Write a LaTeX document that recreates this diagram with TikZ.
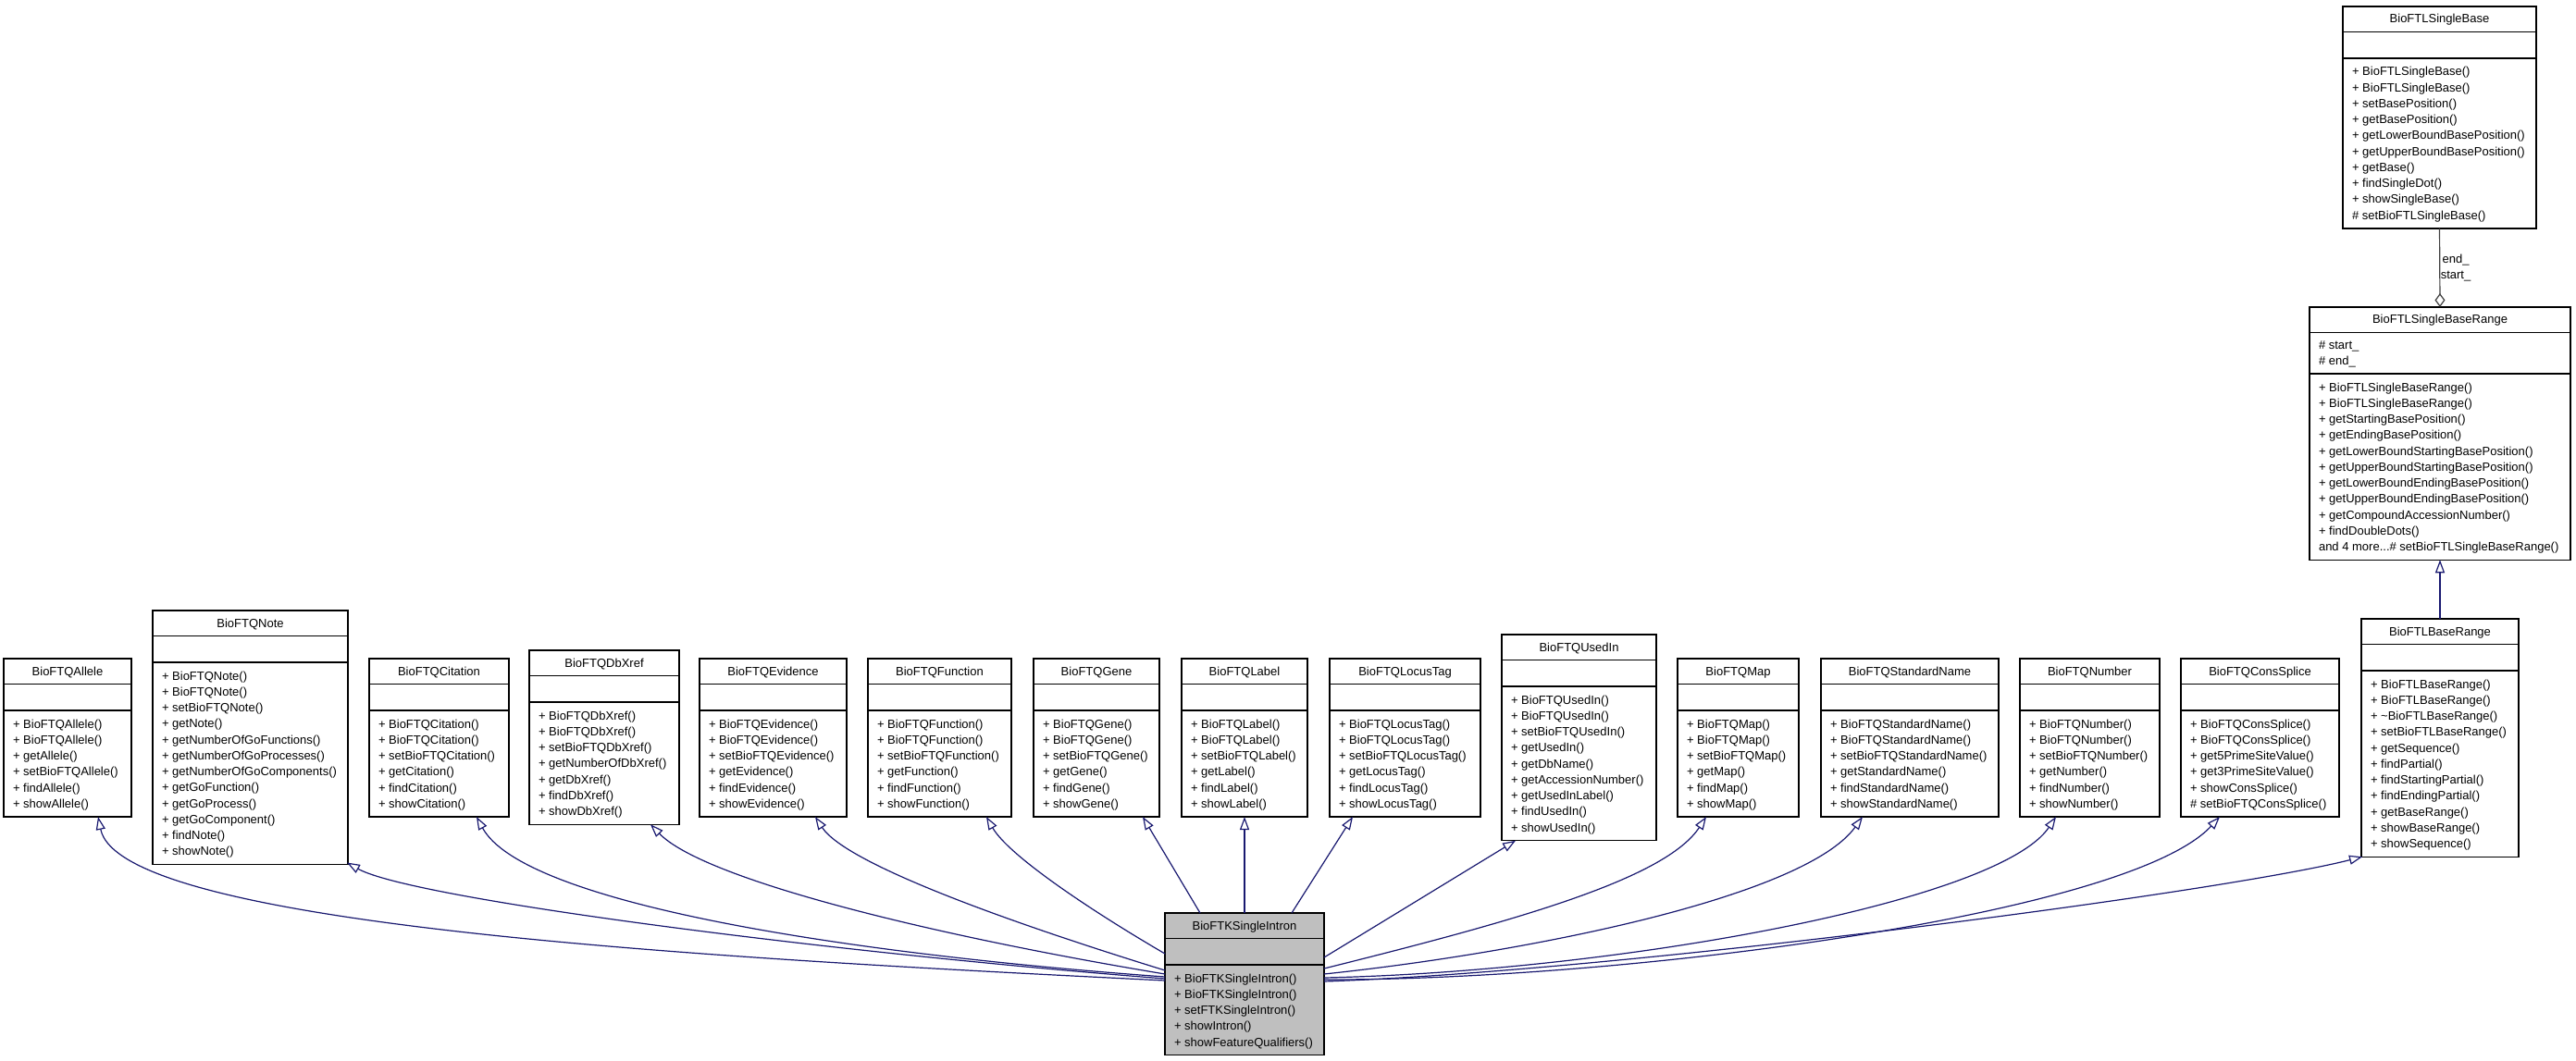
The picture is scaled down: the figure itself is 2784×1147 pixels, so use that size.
\documentclass[tikz,border=0pt]{standalone}
\usepackage{fontspec}
\setmainfont{Liberation Sans}
\usetikzlibrary{arrows.meta}
\definecolor{edgeblue}{HTML}{191970}
\definecolor{greytf}{HTML}{404040}
\definecolor{introngray}{HTML}{BFBFBF}
\tikzset{
  umlframe/.style={draw=black, line width=1.1pt, inner sep=0pt, outer sep=0pt},
  umlline/.style={draw=black, line width=1.1pt},
  umltext/.style={inner sep=0pt, outer sep=0pt, font=\fontsize{13}{17}\selectfont},
  inh/.style={draw=edgeblue, line width=1.2pt, -{Triangle[open, length=14pt, width=10pt]}},
  agg/.style={draw=greytf, line width=1.2pt, -{Diamond[open, length=15pt, width=11pt]}}
}
\newcommand\boxfill{white}
\newcommand\mythreedots{...}
% #1 name, #2 left, #3 right, #4 top, #5 title, #6 attr height, #7 attr code, #8 n methods, #9 methods
\newcommand\umlbox[9]{%
  \pgfmathsetmacro\bw{#3-#2}%
  \pgfmathsetmacro\bh{27.5+#6+#8*17.25+11.5}%
  \pgfmathsetmacro\sepy{27.5+#6}%
  \node[umlframe, fill=\boxfill, minimum width=\bw pt, minimum height=\bh pt, anchor=north west] (#1) at (#2,#4) {};
  \draw[umlline] ([yshift=-27.5pt]#1.north west) -- ([yshift=-27.5pt]#1.north east);
  \draw[umlline] ([yshift=-\sepy pt]#1.north west) -- ([yshift=-\sepy pt]#1.north east);
  \node[umltext, anchor=base] (#1-title) at ([yshift=-18pt]#1.north) {#5};
  #7%
  \foreach \m [count=\i] in {#9} {%
    \pgfmathsetmacro\ly{\sepy+19+(\i-1)*17.25}%
    \node[umltext, anchor=base west] (#1-m\i) at ([xshift=10pt, yshift=-\ly pt]#1.north west) {\m};
  }%
}
\begin{document}
\begin{tikzpicture}[x=1pt, y=-1pt]
\fill[white] (0,0) rectangle (2784,1147);
\useasboundingbox (0,0) rectangle (2784,1147);

\umlbox{allele}{4}{142}{712}{BioFTQAllele}{28.5}{}{6}{+ BioFTQAllele(), + BioFTQAllele(), + getAllele(), + setBioFTQAllele(), + findAllele(), + showAllele()}
\umlbox{note}{165}{376}{660}{BioFTQNote}{28.5}{}{12}{+ BioFTQNote(), + BioFTQNote(), + setBioFTQNote(), + getNote(), + getNumberOfGoFunctions(), + getNumberOfGoProcesses(), + getNumberOfGoComponents(), + getGoFunction(), + getGoProcess(), + getGoComponent(), + findNote(), + showNote()}
\umlbox{citation}{399}{550}{712}{BioFTQCitation}{28.5}{}{6}{+ BioFTQCitation(), + BioFTQCitation(), + setBioFTQCitation(), + getCitation(), + findCitation(), + showCitation()}
\umlbox{dbxref}{572}{734}{703}{BioFTQDbXref}{28.5}{}{7}{+ BioFTQDbXref(), + BioFTQDbXref(), + setBioFTQDbXref(), + getNumberOfDbXref(), + getDbXref(), + findDbXref(), + showDbXref()}
\umlbox{evidence}{756}{915}{712}{BioFTQEvidence}{28.5}{}{6}{+ BioFTQEvidence(), + BioFTQEvidence(), + setBioFTQEvidence(), + getEvidence(), + findEvidence(), + showEvidence()}
\umlbox{function}{938}{1093}{712}{BioFTQFunction}{28.5}{}{6}{+ BioFTQFunction(), + BioFTQFunction(), + setBioFTQFunction(), + getFunction(), + findFunction(), + showFunction()}
\umlbox{gene}{1117}{1253}{712}{BioFTQGene}{28.5}{}{6}{+ BioFTQGene(), + BioFTQGene(), + setBioFTQGene(), + getGene(), + findGene(), + showGene()}
\umlbox{label}{1277}{1413}{712}{BioFTQLabel}{28.5}{}{6}{+ BioFTQLabel(), + BioFTQLabel(), + setBioFTQLabel(), + getLabel(), + findLabel(), + showLabel()}
\umlbox{locustag}{1437}{1600}{712}{BioFTQLocusTag}{28.5}{}{6}{+ BioFTQLocusTag(), + BioFTQLocusTag(), + setBioFTQLocusTag(), + getLocusTag(), + findLocusTag(), + showLocusTag()}
\umlbox{usedin}{1623}{1790}{686}{BioFTQUsedIn}{28.5}{}{9}{+ BioFTQUsedIn(), + BioFTQUsedIn(), + setBioFTQUsedIn(), + getUsedIn(), + getDbName(), + getAccessionNumber(), + getUsedInLabel(), + findUsedIn(), + showUsedIn()}
\umlbox{map}{1813}{1944}{712}{BioFTQMap}{28.5}{}{6}{+ BioFTQMap(), + BioFTQMap(), + setBioFTQMap(), + getMap(), + findMap(), + showMap()}
\umlbox{stdname}{1968}{2160}{712}{BioFTQStandardName}{28.5}{}{6}{+ BioFTQStandardName(), + BioFTQStandardName(), + setBioFTQStandardName(), + getStandardName(), + findStandardName(), + showStandardName()}
\umlbox{number}{2183}{2334}{712}{BioFTQNumber}{28.5}{}{6}{+ BioFTQNumber(), + BioFTQNumber(), + setBioFTQNumber(), + getNumber(), + findNumber(), + showNumber()}
\umlbox{conssplice}{2357}{2528}{712}{BioFTQConsSplice}{28.5}{}{6}{+ BioFTQConsSplice(), + BioFTQConsSplice(), + get5PrimeSiteValue(), + get3PrimeSiteValue(), + showConsSplice(), \# setBioFTQConsSplice()}
\umlbox{baserange}{2552}{2722}{669}{BioFTLBaseRange}{28.5}{}{11}{+ BioFTLBaseRange(), + BioFTLBaseRange(), + \textasciitilde BioFTLBaseRange(), + setBioFTLBaseRange(), + getSequence(), + findPartial(), + findStartingPartial(), + findEndingPartial(), + getBaseRange(), + showBaseRange(), + showSequence()}
\umlbox{sbr}{2496}{2778}{332}{BioFTLSingleBaseRange}{44.5}{%
  \node[umltext, anchor=base west] (sbr-a1) at ([xshift=10pt, yshift=-45.5pt]sbr.north west) {\# start\_};
  \node[umltext, anchor=base west] (sbr-a2) at ([xshift=10pt, yshift=-62.75pt]sbr.north west) {\# end\_};
}{11}{+ BioFTLSingleBaseRange(), + BioFTLSingleBaseRange(), + getStartingBasePosition(), + getEndingBasePosition(), + getLowerBoundStartingBasePosition(), + getUpperBoundStartingBasePosition(), + getLowerBoundEndingBasePosition(), + getUpperBoundEndingBasePosition(), + getCompoundAccessionNumber(), + findDoubleDots(), and 4 more\mythreedots\# setBioFTLSingleBaseRange()}
\umlbox{sb}{2532}{2741}{7}{BioFTLSingleBase}{28.5}{}{10}{+ BioFTLSingleBase(), + BioFTLSingleBase(), + setBasePosition(), + getBasePosition(), + getLowerBoundBasePosition(), + getUpperBoundBasePosition(), + getBase(), + findSingleDot(), + showSingleBase(), \# setBioFTLSingleBase()}
\renewcommand\boxfill{introngray}
\umlbox{intron}{1259}{1431}{987}{BioFTKSingleIntron}{28.5}{}{5}{+ BioFTKSingleIntron(), + BioFTKSingleIntron(), + setFTKSingleIntron(), + showIntron(), + showFeatureQualifiers()}

% composition / aggregation
\draw[agg] (sb.south) -- node[umltext, anchor=west, xshift=1pt, align=center] (lblends) {end\_\\start\_} (sbr.north);
% inheritance
\draw[inh] (baserange.north) -- (sbr.south);

% left side
\draw[inh] (intron.west |- 0,1060) .. controls (750,1035) and (130,1000) .. (allele.south -| 106,0);
\draw[inh] (intron.west |- 0,1058) .. controls (900,1030) and (445,972) .. ([xshift=-1pt,yshift=2pt]note.south east);
\draw[inh] (intron.west |- 0,1056) .. controls (900,1030) and (565,975) .. (citation.south -| 515,0);
\draw[inh] (intron.west |- 0,1053) .. controls (1000,1010) and (760,950) .. (dbxref.south -| 703,0);
\draw[inh] (intron.west |- 0,1049) .. controls (1100,1000) and (915,935) .. (evidence.south -| 881,0);
\draw[inh] (intron.west |- 0,1031) .. controls (1180,985) and (1090,925) .. (function.south -| 1066,0);
% top
\draw[inh] (intron.north -| 1297,0) -- (gene.south -| 1235,0);
\draw[inh] (intron.north) -- (label.south);
\draw[inh] (intron.north -| 1396,0) -- (locustag.south -| 1462,0);
% right side
\draw[inh] (intron.east |- 0,1035) .. controls (1500,993) and (1590,938) .. (usedin.south -| 1638,0);
\draw[inh] (intron.east |- 0,1047) .. controls (1640,995) and (1800,950) .. (map.south -| 1844,0);
\draw[inh] (intron.east |- 0,1053) .. controls (1650,1030) and (1950,970) .. (stdname.south -| 2013,0);
\draw[inh] (intron.east |- 0,1057) .. controls (1750,1050) and (2160,975) .. (number.south -| 2222,0);
\draw[inh] (intron.east |- 0,1059) .. controls (1750,1060) and (2300,990) .. (conssplice.south -| 2399,0);
\draw[inh] (intron.east |- 0,1061) .. controls (1750,1050) and (2400,965) .. ([xshift=1pt]baserange.south west);
\end{tikzpicture}
\end{document}
